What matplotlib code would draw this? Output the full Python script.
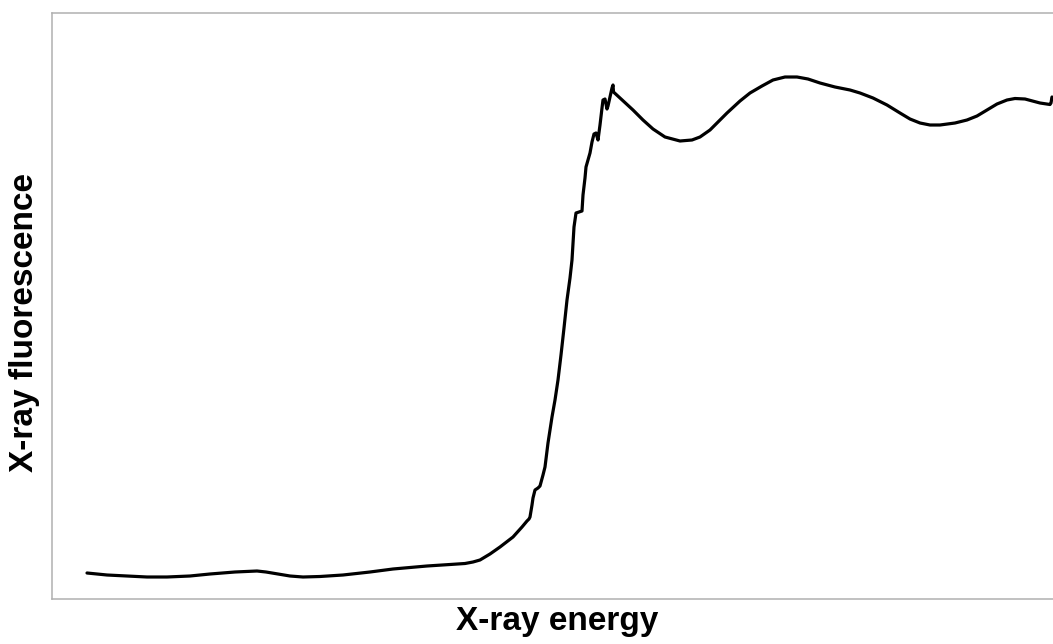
import matplotlib
matplotlib.use("Agg")
import matplotlib.pyplot as plt

# Arbitrary units (energy increases to the right,
# fluorescence increases upward)
energy = [87, 107, 127, 147, 167, 190, 210, 235, 257, 266, 275, 290, 303, 320,
          343, 370, 393, 427, 450, 465, 473, 480, 490, 500, 513, 522, 527, 529,
          530, 532, 533, 535, 538, 540, 543, 545, 548, 552, 555, 558, 561, 564,
          567, 570, 572, 574, 576, 579, 582, 583, 585, 586, 588, 590, 592, 594,
          596, 598, 600, 602, 603, 605, 607, 608, 610, 612, 613, 613.5, 620, 633,
          643, 653, 665, 680, 692, 700, 710, 727, 740, 750, 762, 773, 785, 797,
          808, 820, 835, 850, 860, 873, 887, 900, 910, 920, 930, 940, 955, 967,
          977, 987, 997, 1007, 1015, 1025, 1040, 1050, 1051, 1052, 1054]
fluor_px = [573, 575, 576, 577, 577, 576, 574, 572, 571, 572, 573.5, 576, 577,
            576.5, 575, 572, 569, 566, 564.5, 563.5, 562, 560, 554, 547, 537,
            527, 521, 519, 517, 505, 498, 490, 488, 486, 475, 467, 443, 417, 400,
            380, 355, 328, 300, 278, 260, 227, 213, 212, 211, 195, 178, 167, 160,
            153, 142, 134, 133, 140, 125, 108, 100, 99, 109, 106, 97, 88, 85, 92,
            98, 110, 120, 129, 137, 141, 140, 137, 130, 113, 101, 93, 86, 80, 77,
            77, 79, 83, 87, 90, 93, 98, 105, 113, 119, 123, 125, 125, 123, 120,
            116, 110, 104, 100, 98.5, 99, 103, 104.5, 103, 97, 100]
fluorescence = [599 - v for v in fluor_px]

W, H = 1053, 644
fig = plt.figure(figsize=(W / 100, H / 100), dpi=100)
ax_left, ax_right, ax_top, ax_bottom = 51.5, 1062, 13, 599
ax = fig.add_axes([ax_left / W, (H - ax_bottom) / H,
                   (ax_right - ax_left) / W, (ax_bottom - ax_top) / H])
ax.plot(energy, fluorescence, color="black", lw=2.3,
        solid_joinstyle="round", solid_capstyle="round")
ax.set_xlim(ax_left, ax_right)
ax.set_ylim(0, ax_bottom - ax_top)
ax.set_xticks([])
ax.set_yticks([])
for s in ax.spines.values():
    s.set_color("#b0b0b0")
    s.set_linewidth(1.1)

fig.text(557 / W, (H - 630) / H, "X-ray energy", ha="center", va="baseline",
         fontsize=24, fontweight="bold", family="Liberation Sans")
fig.text(25 / W, (H - 323) / H, "X-ray fluorescence", ha="center", va="center",
         rotation=90, fontsize=24, fontweight="bold", family="Liberation Sans")

fig.savefig("out.png", dpi=100, facecolor="white")
